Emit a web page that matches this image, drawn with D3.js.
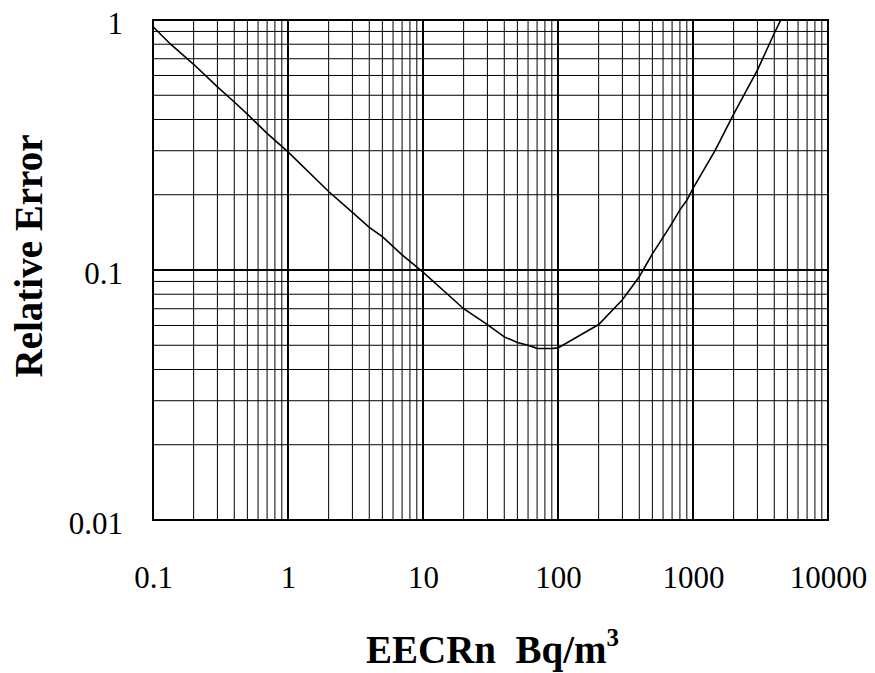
<!DOCTYPE html>
<html>
<head>
<meta charset="utf-8">
<script src="https://cdn.jsdelivr.net/npm/d3@7"></script>
<style>
  body { margin: 0; background: #fff; }
</style>
</head>
<body>
<div id="chart-area"></div>
<script>
const canvas_width = 875;
const canvas_height = 673;

// curve
const eecrn = [0.1, 0.135, 0.2, 0.3, 0.4, 0.5, 0.7, 1, 2, 3, 4, 5, 7, 10, 20, 30, 40, 50, 60, 70, 80, 90, 100,
    200, 300, 400, 500, 600, 700, 800, 900, 1000, 1456, 2000, 3000, 4000, 4470];
const rel_error = [0.94, 0.8, 0.665, 0.54, 0.47, 0.42, 0.352, 0.297, 0.206, 0.17, 0.148, 0.136, 0.115, 0.098,
    0.07, 0.0605, 0.054, 0.0513, 0.050, 0.0486, 0.0485, 0.0485, 0.0488,
    0.0605, 0.076, 0.094, 0.116, 0.135, 0.154, 0.174, 0.19, 0.212, 0.3, 0.42, 0.63, 0.885, 1.0];

const x_ticks = [0.1, 1, 10, 100, 1000, 10000];
const x_tick_labels = ['0.1', '1', '10', '100', '1000', '10000'];
const y_ticks = [0.01, 0.1, 1];
const y_tick_labels = ['0.01', '0.1', '1'];
const x_axis_label = 'EECRn  Bq/m';
const x_axis_sup = '3';
const y_axis_label = 'Relative Error';

const font = '"Liberation Serif", "Times New Roman", serif';
const margin = { left: 153, right: 47, top: 20, bottom: 153 };
const width = canvas_width - margin.left - margin.right;
const height = canvas_height - margin.top - margin.bottom;

let canvas = d3.select('#chart-area').append('svg')
    .attr('width', canvas_width)
    .attr('height', canvas_height);
let group = canvas.append('g').attr('transform', `translate(${margin.left}, ${margin.top})`);

let x = d3.scaleLog().domain([0.1, 10000]).range([0, width]);
let y = d3.scaleLog().domain([0.01, 1]).range([height, 0]);

const isDecade = (v) => Math.abs(Math.log10(v) - Math.round(Math.log10(v))) < 1e-9;

// grid
group.selectAll('line.vgrid').data(x.ticks())
    .enter().append('line')
        .attr('class', 'vgrid')
        .attr('x1', (d) => x(d)).attr('x2', (d) => x(d))
        .attr('y1', 0).attr('y2', height)
        .attr('stroke', '#000')
        .attr('stroke-width', (d) => isDecade(d) ? 2 : 1);

group.selectAll('line.hgrid').data(y.ticks())
    .enter().append('line')
        .attr('class', 'hgrid')
        .attr('y1', (d) => y(d)).attr('y2', (d) => y(d))
        .attr('x1', 0).attr('x2', width)
        .attr('stroke', '#000')
        .attr('stroke-width', (d) => isDecade(d) ? 2 : 1);

// frame
group.append('rect')
    .attr('width', width).attr('height', height)
    .attr('fill', 'none').attr('stroke', '#000').attr('stroke-width', 2);

// curve
group.append('clipPath').attr('id', 'clip')
    .append('rect').attr('width', width).attr('height', height);

let line = d3.line()
    .x((d, i) => x(eecrn[i]))
    .y((d) => y(d));

group.append('path')
    .datum(rel_error)
    .attr('clip-path', 'url(#clip)')
    .attr('fill', 'none')
    .attr('stroke', '#000')
    .attr('stroke-width', 1.6)
    .attr('d', line);

// axes
let bottomAxis = d3.axisBottom(x)
    .tickValues(x_ticks)
    .tickSize(0)
    .tickPadding(46)
    .tickFormat((d, i) => x_tick_labels[i]);

let xg = group.append('g')
    .attr('transform', `translate(0, ${height})`)
    .call(bottomAxis);
xg.select('.domain').remove();
xg.selectAll('text')
    .attr('font-size', '31px')
    .attr('font-family', font)
    .attr('fill', '#000');

let leftAxis = d3.axisLeft(y)
    .tickValues(y_ticks)
    .tickSize(0)
    .tickPadding(30)
    .tickFormat((d, i) => y_tick_labels[i]);

let yg = group.append('g').call(leftAxis);
yg.select('.domain').remove();
yg.selectAll('text')
    .attr('font-size', '31px')
    .attr('font-family', font)
    .attr('fill', '#000')
    .attr('dy', '0.42em');

let xl = group.append('text')
    .attr('x', width / 2 + 2)
    .attr('y', height + 143)
    .attr('font-family', font)
    .attr('font-size', '39px')
    .attr('font-weight', 'bold')
    .attr('text-anchor', 'middle')
    .style('white-space', 'pre');
xl.append('tspan').text(x_axis_label);
xl.append('tspan').attr('font-size', '25px').attr('dy', -17).text(x_axis_sup);

group.append('text')
    .attr('x', -(height / 2) + 14)
    .attr('y', -111)
    .attr('font-family', font)
    .attr('font-size', '39px')
    .attr('font-weight', 'bold')
    .attr('text-anchor', 'middle')
    .attr('transform', 'rotate(-90)')
    .text(y_axis_label);
</script>
</body>
</html>
